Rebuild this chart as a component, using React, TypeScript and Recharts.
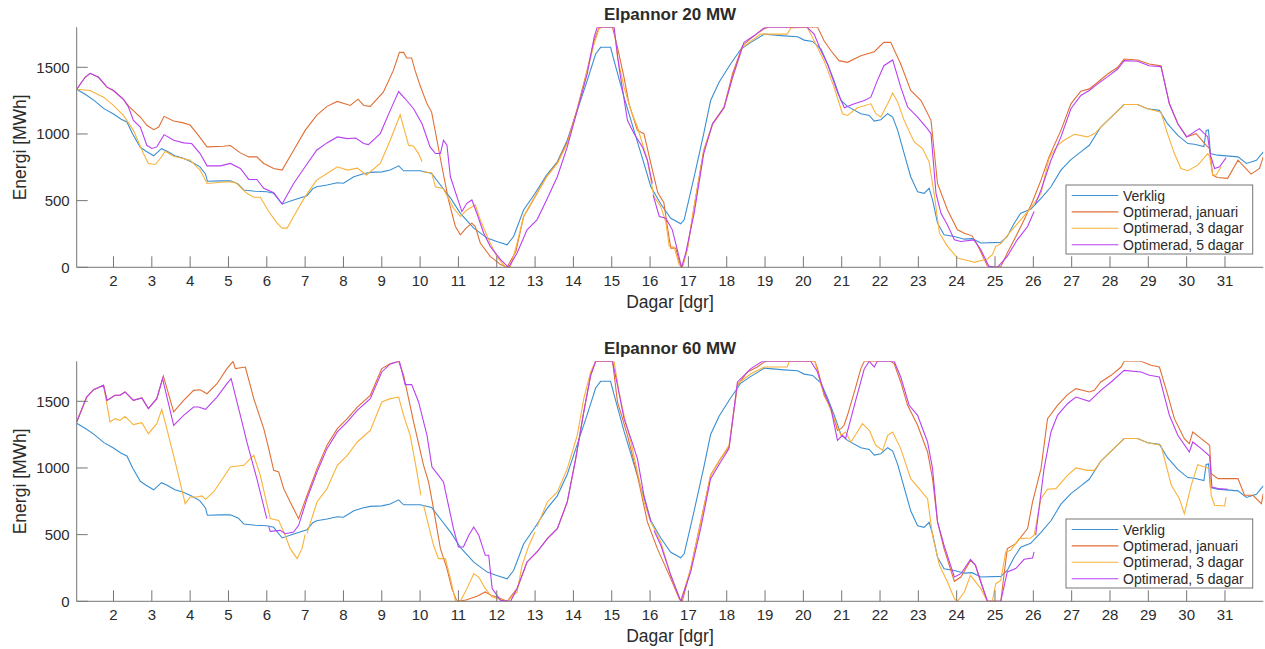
import React from 'react';
import { LineChart, Line, XAxis, YAxis } from 'recharts';

type Pt = [number, number | null];

// axes
const DAY_TICKS = [2, 3, 4, 5, 6, 7, 8, 9, 10, 11, 12, 13, 14, 15, 16, 17, 18, 19, 20, 21, 22, 23, 24, 25, 26, 27, 28, 29, 30, 31];
const ENERGY_TICKS = [0, 500, 1000, 1500];
const DAY_DOMAIN: [number, number] = [1.04, 32];
const ENERGY_DOMAIN: [number, number] = [0, 1800];

// measured energy, same in both panels
const VERKLIG: Pt[] = [
  [1.04, 1335], [1.3, 1290], [1.5, 1250], [1.75, 1190], [2.0, 1150], [2.2, 1110], [2.35, 1090], [2.5, 1000], [2.7, 900],
  [2.85, 870], [3.05, 836], [3.25, 890], [3.4, 870], [3.6, 836], [3.8, 820], [4.0, 796], [4.25, 755], [4.4, 700], [4.45, 645],
  [4.8, 648], [5.05, 649], [5.25, 625], [5.4, 580], [5.7, 570], [6.0, 567], [6.18, 555], [6.4, 475], [6.7, 505], [7.05, 537],
  [7.2, 590], [7.3, 604], [7.57, 617], [7.84, 634], [8.0, 630], [8.27, 679], [8.5, 700], [8.7, 712], [9.0, 716], [9.22, 729],
  [9.44, 761], [9.57, 724], [10.0, 724], [10.3, 704], [10.53, 617], [10.8, 517], [11.05, 405], [11.4, 294], [11.75, 219],
  [12.0, 194], [12.27, 169], [12.44, 231], [12.7, 430], [13.0, 555], [13.3, 691], [13.58, 791], [13.84, 953], [14.1, 1177],
  [14.36, 1400], [14.58, 1600], [14.71, 1650], [14.97, 1650], [15.06, 1550], [15.32, 1276], [15.58, 1027], [15.84, 779],
  [16.02, 604], [16.28, 475], [16.54, 368], [16.8, 326], [16.89, 356], [17.15, 679], [17.4, 1003], [17.58, 1251], [17.8, 1388],
  [18.1, 1525], [18.37, 1637], [18.63, 1687], [18.98, 1749], [19.5, 1736], [19.85, 1729], [20.02, 1704], [20.24, 1694],
  [20.46, 1637], [20.63, 1525], [20.8, 1400], [20.98, 1251], [21.15, 1207], [21.5, 1152], [21.72, 1139], [21.85, 1097],
  [22.02, 1107], [22.2, 1152], [22.33, 1127], [22.46, 1027], [22.63, 853], [22.8, 679], [22.98, 567], [23.15, 555],
  [23.28, 592], [23.37, 505], [23.5, 331], [23.67, 244], [23.94, 231], [24.2, 211], [24.4, 215], [24.63, 182], [25.15, 187],
  [25.32, 231], [25.5, 331], [25.67, 405], [25.93, 435], [26.2, 517], [26.46, 604], [26.72, 729], [26.98, 808], [27.24, 866],
  [27.46, 915], [27.76, 1052], [28.03, 1127], [28.37, 1221], [28.72, 1221], [28.98, 1189], [29.29, 1177], [29.5, 1077],
  [29.77, 990], [30.03, 928], [30.2, 923], [30.45, 905], [30.51, 1027], [30.57, 1030], [30.62, 853], [30.8, 841],
  [31.34, 828], [31.56, 779], [31.82, 803], [32.0, 866],
];

// 20 MW
const JANUARI_20: Pt[] = [
  [1.04, 1335], [1.26, 1425], [1.39, 1455], [1.61, 1425], [1.83, 1351], [2.0, 1326], [2.26, 1259], [2.4, 1207], [2.7, 1127],
  [2.87, 1065], [3.05, 1032], [3.18, 1052], [3.32, 1132], [3.57, 1097], [3.8, 1085], [4.0, 1067], [4.18, 1003], [4.44, 903],
  [4.87, 908], [5.05, 913], [5.31, 858], [5.53, 828], [5.74, 828], [5.92, 779], [6.18, 741], [6.4, 729], [6.7, 878],
  [7.0, 1027], [7.3, 1139], [7.57, 1207], [7.84, 1244], [8.18, 1214], [8.38, 1261], [8.53, 1214], [8.7, 1207], [9.04, 1313],
  [9.3, 1475], [9.46, 1612], [9.57, 1612], [9.65, 1570], [9.78, 1570], [9.87, 1475], [10.0, 1363], [10.18, 1226],
  [10.3, 1164], [10.44, 953], [10.57, 754], [10.74, 505], [10.92, 306], [11.05, 244], [11.2, 294], [11.35, 331],
  [11.44, 306], [11.57, 182], [11.83, 82], [12.1, 20], [12.27, 0], [12.5, 120], [12.7, 380], [13.0, 530], [13.3, 680],
  [13.58, 785], [13.84, 940], [14.1, 1190], [14.36, 1480], [14.54, 1700], [14.67, 1800], [15.02, 1800], [15.15, 1650],
  [15.32, 1425], [15.45, 1226], [15.67, 1027], [15.84, 1002], [16.02, 780], [16.2, 560], [16.36, 485], [16.45, 306],
  [16.54, 144], [16.67, 144], [16.8, 7], [16.84, 0], [16.97, 132], [17.15, 455], [17.4, 878], [17.63, 1077], [17.93, 1202],
  [18.15, 1450], [18.41, 1662], [18.71, 1736], [18.98, 1790], [19.1, 1800], [20.37, 1800], [20.54, 1699], [20.72, 1624],
  [20.93, 1550], [21.15, 1537], [21.5, 1587], [21.85, 1617], [22.1, 1687], [22.28, 1687], [22.54, 1525], [22.8, 1326],
  [23.07, 1251], [23.33, 1102], [23.5, 629], [23.76, 430], [24.02, 281], [24.2, 256], [24.4, 236], [24.54, 169], [24.8, 12],
  [24.97, 0], [25.15, 5], [25.32, 107], [25.5, 206], [25.76, 356], [25.98, 493], [26.2, 654], [26.41, 828], [26.72, 1027],
  [26.98, 1226], [27.24, 1321], [27.46, 1338], [27.68, 1388], [27.94, 1450], [28.2, 1500], [28.37, 1562], [28.72, 1555],
  [29.02, 1525], [29.33, 1512], [29.55, 1226], [29.77, 1077], [30.0, 978], [30.25, 1002], [30.51, 915], [30.6, 891],
  [30.68, 692], [30.8, 674], [31.07, 667], [31.34, 803], [31.68, 699], [31.9, 741], [32.0, 828],
];

const DAGAR3_20: Pt[] = [
  [1.04, 1335], [1.39, 1326], [1.74, 1276], [2.0, 1214], [2.26, 1139], [2.52, 1027], [2.78, 853], [2.91, 779], [3.09, 771],
  [3.22, 816], [3.35, 871], [3.57, 833], [4.0, 803], [4.26, 729], [4.44, 629], [4.96, 642], [5.18, 637], [5.48, 555],
  [5.66, 525], [5.83, 525], [6.05, 418], [6.27, 331], [6.4, 294], [6.53, 294], [6.7, 381], [7.0, 530], [7.3, 654],
  [7.57, 704], [7.84, 754], [8.1, 729], [8.36, 744], [8.6, 692], [8.96, 779], [9.22, 953], [9.48, 1144], [9.7, 915],
  [9.83, 908], [9.96, 853], [10.05, 791], [10.06, null], [10.07, 717], [10.3, 710], [10.4, 604], [10.6, 592], [10.74, 517],
  [10.87, 443], [11.05, 381], [11.22, 430], [11.44, 468], [11.57, 356], [11.79, 206], [12.0, 82], [12.23, 0], [12.36, 5],
  [12.53, 182], [12.7, 381], [12.97, 517], [13.3, 679], [13.58, 779], [13.84, 928], [14.1, 1177], [14.36, 1475],
  [14.54, 1674], [14.67, 1790], [14.75, 1800], [15.06, 1800], [15.15, 1575], [15.32, 1351], [15.5, 1177], [15.67, 1052],
  [15.93, 803], [16.1, 530], [16.28, 455], [16.41, 340], [16.5, 157], [16.63, 150], [16.76, 20], [16.84, 0], [16.97, 132],
  [17.15, 455], [17.4, 870], [17.63, 1070], [17.93, 1195], [18.15, 1420], [18.41, 1650], [18.89, 1749], [19.58, 1749],
  [19.67, 1795], [20.1, 1800], [20.28, 1699], [20.54, 1550], [20.8, 1351], [21.02, 1152], [21.15, 1139], [21.41, 1197],
  [21.76, 1226], [21.89, 1152], [22.02, 1127], [22.2, 1226], [22.33, 1308], [22.46, 1239], [22.63, 1102], [22.89, 940],
  [23.11, 891], [23.28, 791], [23.41, 555], [23.55, 256], [23.76, 157], [24.02, 70], [24.37, 45], [24.45, 37], [24.8, 62],
  [24.93, 95], [25.02, 157], [25.15, 177], [25.41, 269], [25.67, 356], [25.93, 443], [26.2, 555], [26.41, 816], [26.63, 915],
  [26.8, 953], [27.07, 998], [27.41, 978], [27.6, 1003], [27.76, 1052], [28.03, 1127], [28.37, 1221], [28.72, 1221],
  [28.98, 1189], [29.33, 1164], [29.5, 1003], [29.68, 853], [29.85, 741], [30.03, 724], [30.29, 766], [30.55, 853],
  [30.6, 830], [30.68, 692], [30.77, 692], [30.9, 754],
];

const DAGAR5_20: Pt[] = [
  [1.04, 1335], [1.26, 1425], [1.39, 1455], [1.61, 1425], [1.83, 1351], [2.0, 1326], [2.26, 1259], [2.39, 1202], [2.52, 1102],
  [2.7, 1052], [2.87, 915], [3.0, 891], [3.13, 903], [3.32, 995], [3.57, 953], [3.83, 933], [4.04, 928], [4.26, 853],
  [4.44, 761], [4.79, 761], [5.05, 779], [5.31, 741], [5.53, 659], [5.74, 659], [5.92, 592], [6.18, 560], [6.4, 475],
  [6.7, 629], [7.0, 754], [7.3, 878], [7.57, 933], [7.84, 978], [8.1, 965], [8.32, 970], [8.53, 928], [8.65, 920],
  [8.96, 1003], [9.22, 1177], [9.44, 1318], [9.61, 1264], [9.83, 1189], [10.05, 1077], [10.26, 903], [10.4, 853],
  [10.53, 853], [10.61, 953], [10.7, 915], [10.79, 679], [10.96, 530], [11.09, 418], [11.22, 480], [11.35, 505],
  [11.48, 405], [11.66, 256], [11.83, 157], [12.1, 57], [12.31, 0], [12.53, 107], [12.79, 281], [13.05, 356], [13.3, 505],
  [13.58, 679], [13.84, 903], [14.1, 1177], [14.36, 1450], [14.54, 1724], [14.62, 1800], [15.06, 1800], [15.19, 1500],
  [15.41, 1102], [15.58, 1003], [15.8, 903], [15.93, 803], [16.06, 629], [16.07, null], [16.08, 542], [16.24, 381],
  [16.41, 368], [16.58, 281], [16.71, 132], [16.82, 0], [16.93, 107], [17.15, 405], [17.4, 853], [17.63, 1077],
  [17.93, 1197], [18.15, 1425], [18.45, 1687], [18.71, 1736], [18.93, 1786], [19.0, 1800], [20.1, 1800], [20.28, 1749],
  [20.46, 1624], [20.63, 1525], [20.89, 1313], [21.07, 1197], [21.33, 1226], [21.59, 1251], [21.76, 1276], [21.93, 1400],
  [22.1, 1512], [22.33, 1555], [22.54, 1351], [22.72, 1202], [22.98, 1127], [23.2, 1052], [23.33, 1003], [23.46, 555],
  [23.59, 405], [23.76, 318], [23.94, 206], [24.11, 194], [24.45, 206], [24.63, 132], [24.84, 7], [25.06, 0], [25.32, 82],
  [25.58, 206], [25.85, 306], [26.02, 418], [26.03, null], [26.05, 470], [26.2, 580], [26.46, 803], [26.72, 978],
  [26.98, 1189], [27.24, 1289], [27.46, 1326], [27.68, 1376], [27.94, 1430], [28.2, 1487], [28.37, 1550], [28.72, 1545],
  [29.02, 1512], [29.33, 1505], [29.55, 1226], [29.77, 1077], [30.0, 978], [30.33, 1040], [30.55, 978], [30.62, 841],
  [30.73, 741], [30.86, 754], [31.03, 823],
];

// 60 MW
const JANUARI_60: Pt[] = [
  [1.04, 1345], [1.3, 1532], [1.48, 1587], [1.74, 1620], [1.83, 1507], [2.04, 1545], [2.17, 1545], [2.3, 1570], [2.52, 1507],
  [2.74, 1525], [2.91, 1445], [3.13, 1520], [3.3, 1690], [3.57, 1420], [3.83, 1507], [4.09, 1582], [4.26, 1587], [4.44, 1557],
  [4.7, 1632], [4.96, 1745], [5.12, 1800], [5.18, 1745], [5.44, 1757], [5.66, 1520], [5.92, 1295], [6.05, 1145], [6.18, 982],
  [6.31, 970], [6.44, 845], [6.61, 745], [6.83, 620], [7.05, 795], [7.31, 995], [7.57, 1170], [7.84, 1295], [8.1, 1370],
  [8.36, 1457], [8.7, 1545], [9.0, 1745], [9.22, 1782], [9.44, 1800], [9.57, 1695], [9.83, 1345], [10.09, 1020],
  [10.22, 895], [10.35, 695], [10.53, 395], [10.7, 245], [10.83, 95], [10.96, 0], [11.2, 10], [11.5, 40], [11.7, 70],
  [11.85, 45], [12.0, 32], [12.27, 0], [12.53, 95], [12.79, 295], [13.05, 370], [13.32, 470], [13.58, 545], [13.84, 745],
  [14.06, 1070], [14.27, 1420], [14.45, 1695], [14.58, 1800], [15.02, 1800], [15.15, 1495], [15.41, 1245], [15.67, 945],
  [15.93, 595], [16.19, 395], [16.54, 170], [16.76, 20], [16.84, 0], [17.06, 245], [17.32, 595], [17.58, 945], [17.84, 1070],
  [18.06, 1157], [18.28, 1620], [18.54, 1720], [18.8, 1757], [18.98, 1795], [19.05, 1800], [20.3, 1800], [20.37, 1745],
  [20.54, 1545], [20.72, 1445], [20.89, 1282], [20.98, 1295], [21.06, 1320], [21.15, 1395], [21.33, 1570], [21.5, 1745],
  [21.59, 1800], [22.28, 1800], [22.37, 1782], [22.54, 1645], [22.72, 1470], [22.98, 1320], [23.24, 1120], [23.37, 920],
  [23.5, 595], [23.67, 395], [23.94, 150], [24.11, 182], [24.36, 307], [24.49, 270], [24.63, 145], [24.8, 0], [25.15, 0],
  [25.32, 395], [25.54, 432], [25.85, 545], [25.98, 745], [26.2, 995], [26.37, 1370], [26.63, 1470], [26.89, 1550],
  [27.11, 1595], [27.46, 1570], [27.59, 1582], [27.76, 1645], [28.03, 1695], [28.29, 1757], [28.37, 1800], [28.81, 1800],
  [29.07, 1770], [29.29, 1757], [29.51, 1545], [29.68, 1370], [29.94, 1220], [30.07, 1182], [30.16, 1270], [30.38, 1220],
  [30.6, 1170], [30.64, 957], [30.82, 920], [31.34, 920], [31.51, 795], [31.73, 795], [31.95, 732], [32.0, 807],
];

const DAGAR3_60: Pt[] = [
  [1.04, 1345], [1.3, 1532], [1.48, 1587], [1.74, 1620], [1.91, 1345], [2.04, 1370], [2.17, 1357], [2.3, 1387], [2.52, 1325],
  [2.74, 1340], [2.91, 1257], [3.13, 1332], [3.26, 1440], [3.39, 1295], [3.61, 1045], [3.87, 732], [4.0, 782], [4.18, 782],
  [4.31, 790], [4.4, 765], [4.61, 820], [4.79, 895], [5.05, 1007], [5.4, 1020], [5.66, 1095], [5.83, 945], [6.09, 620],
  [6.31, 607], [6.48, 495], [6.61, 395], [6.79, 320], [6.92, 395], [7.0, 500], [7.01, null], [7.05, 510], [7.31, 745],
  [7.57, 845], [7.84, 1020], [8.1, 1095], [8.36, 1195], [8.7, 1282], [9.0, 1495], [9.22, 1520], [9.44, 1532], [9.57, 1395],
  [9.74, 1245], [9.87, 1045], [10.02, 795], [10.03, null], [10.09, 720], [10.22, 570], [10.35, 420], [10.48, 320],
  [10.66, 320], [10.79, 170], [10.92, 7], [11.05, 0], [11.22, 95], [11.4, 207], [11.53, 182], [11.7, 95], [11.88, 32],
  [12.27, 0], [12.53, 70], [12.66, 270], [12.84, 420], [13.0, 520], [13.01, null], [13.05, 560], [13.32, 745], [13.58, 820],
  [13.84, 995], [14.1, 1245], [14.27, 1520], [14.45, 1720], [14.58, 1800], [15.06, 1800], [15.19, 1570], [15.32, 1395],
  [15.5, 1195], [15.67, 970], [15.84, 745], [16.02, 595], [16.28, 445], [16.54, 195], [16.8, 0], [17.06, 245], [17.32, 587],
  [17.58, 945], [17.84, 1070], [18.06, 1170], [18.28, 1632], [18.63, 1707], [18.98, 1757], [19.58, 1757], [19.63, 1800],
  [20.3, 1800], [20.46, 1620], [20.8, 1370], [20.98, 1245], [21.1, 1270], [21.24, 1195], [21.41, 1270], [21.54, 1332],
  [21.72, 1282], [21.89, 1170], [22.07, 1132], [22.2, 1245], [22.33, 1270], [22.54, 1145], [22.8, 920], [23.02, 845],
  [23.24, 770], [23.37, 495], [23.55, 270], [23.76, 145], [23.94, 20], [24.02, 0], [24.2, 70], [24.36, 195], [24.63, 95],
  [24.8, 0], [24.93, 0], [25.02, 132], [25.15, 157], [25.28, 370], [25.41, 382], [25.63, 470], [25.93, 475], [26.02, 495],
  [26.2, 770], [26.37, 840], [26.59, 845], [26.89, 945], [27.11, 1000], [27.41, 982], [27.59, 982], [27.76, 1050],
  [28.03, 1127], [28.37, 1221], [28.72, 1221], [28.98, 1189], [29.33, 1170], [29.6, 870], [29.81, 770], [29.94, 657],
  [30.12, 870], [30.29, 1025], [30.47, 1007], [30.6, 995], [30.64, 795], [30.73, 720], [30.99, 715], [31.03, 782],
];

const DAGAR5_60: Pt[] = [
  [1.04, 1345], [1.3, 1532], [1.48, 1587], [1.74, 1620], [1.83, 1507], [2.04, 1545], [2.17, 1545], [2.3, 1570], [2.52, 1507],
  [2.74, 1525], [2.91, 1445], [3.13, 1520], [3.28, 1670], [3.57, 1320], [3.83, 1395], [4.09, 1457], [4.22, 1457], [4.4, 1440],
  [4.7, 1532], [4.96, 1632], [5.07, 1670], [5.31, 1395], [5.48, 1195], [5.74, 920], [6.0, 620], [6.01, null], [6.05, 560],
  [6.09, 525], [6.35, 532], [6.48, 507], [6.7, 520], [6.83, 570], [7.05, 770], [7.31, 970], [7.57, 1145], [7.84, 1270],
  [8.1, 1345], [8.36, 1432], [8.7, 1520], [9.0, 1720], [9.22, 1780], [9.46, 1800], [9.61, 1625], [9.78, 1625], [9.96, 1495],
  [10.18, 1245], [10.31, 1007], [10.48, 945], [10.61, 895], [10.74, 720], [10.87, 545], [11.0, 407], [11.13, 407],
  [11.27, 495], [11.4, 557], [11.53, 495], [11.7, 345], [11.79, 345], [11.88, 95], [12.1, 7], [12.36, 0], [12.53, 95],
  [12.79, 295], [13.05, 370], [13.32, 470], [13.58, 545], [13.84, 745], [14.06, 1070], [14.27, 1420], [14.45, 1695],
  [14.58, 1800], [15.02, 1800], [15.15, 1620], [15.32, 1370], [15.5, 1220], [15.67, 1070], [15.84, 795], [16.02, 595],
  [16.03, null], [16.1, 532], [16.28, 420], [16.54, 195], [16.8, 0], [17.06, 220], [17.32, 545], [17.58, 920], [17.84, 1045],
  [18.06, 1145], [18.28, 1645], [18.63, 1745], [18.93, 1800], [20.19, 1800], [20.37, 1720], [20.54, 1570], [20.72, 1445],
  [20.89, 1207], [21.02, 1245], [21.1, 1220], [21.33, 1470], [21.59, 1745], [21.72, 1800], [21.85, 1757], [21.93, 1800],
  [22.37, 1800], [22.54, 1682], [22.76, 1470], [22.98, 1395], [23.24, 1195], [23.37, 995], [23.5, 595], [23.67, 420],
  [23.94, 182], [24.11, 207], [24.36, 315], [24.49, 270], [24.63, 145], [24.8, 0], [25.15, 0], [25.32, 220], [25.54, 245],
  [25.76, 315], [25.98, 325], [26.02, 370], [26.03, null], [26.06, 495], [26.28, 995], [26.46, 1270], [26.63, 1395],
  [26.89, 1482], [27.11, 1532], [27.46, 1500], [27.76, 1582], [28.03, 1645], [28.37, 1732], [28.81, 1720], [29.03, 1695],
  [29.29, 1682], [29.55, 1395], [29.77, 1245], [30.07, 1120], [30.16, 1195], [30.38, 1145], [30.6, 1090], [30.66, 857],
  [30.82, 845], [31.08, 840],
];

const SERIES_NAMES = ['Verklig', 'Optimerad, januari', 'Optimerad, 3 dagar', 'Optimerad, 5 dagar'];
const SERIES_COLORS = ['#3a8fd2', '#e06f35', '#f9b23a', '#b940f2'];

const FONT = '"Liberation Sans", Arial, Helvetica, sans-serif';
const AXIS_COLOR = '#767676';
const TEXT_COLOR = '#2b2b2b';

const W = 1265;
const H = 334;
const PLOT_LEFT = 76.7;
const PLOT_TOP = 27.3;
const PLOT_H = 240;
const PLOT_RIGHT = 1263.3;
const TICK_LEN = 11;

const toRows = (pts: Pt[]) => pts.map(([d, v]) => ({ d, v }));
const blank = () => '';

function Panel({ title, series, top }: { title: string; series: Pt[][]; top: number }) {
  const tickStyle = { fontSize: 15, fontFamily: FONT, fill: TEXT_COLOR };
  const cx = (PLOT_LEFT + PLOT_RIGHT) / 2;
  const cy = PLOT_TOP + PLOT_H / 2;
  const lx = 1066;
  const ly = 185;
  return (
    <div style={{ position: 'absolute', left: 0, top, width: W, height: H }}>
      <LineChart
        width={W}
        height={H}
        margin={{ top: PLOT_TOP, right: W - PLOT_RIGHT, bottom: 0, left: 0 }}
      >
        <XAxis
          xAxisId="b"
          dataKey="d"
          type="number"
          domain={DAY_DOMAIN}
          ticks={DAY_TICKS}
          allowDataOverflow
          height={H - PLOT_TOP - PLOT_H}
          stroke={AXIS_COLOR}
          tickSize={-TICK_LEN}
          tickMargin={TICK_LEN + 8}
          tick={tickStyle}
          interval={0}
        />
        <XAxis
          xAxisId="t"
          orientation="top"
          dataKey="d"
          type="number"
          domain={DAY_DOMAIN}
          ticks={DAY_TICKS}
          allowDataOverflow
          height={0}
          stroke={AXIS_COLOR}
          tickSize={-TICK_LEN}
          tickFormatter={blank}
          interval={0}
        />
        <YAxis
          yAxisId="l"
          type="number"
          domain={ENERGY_DOMAIN}
          ticks={ENERGY_TICKS}
          allowDataOverflow
          width={PLOT_LEFT}
          stroke={AXIS_COLOR}
          tickSize={-TICK_LEN}
          tickMargin={TICK_LEN + 7}
          tick={tickStyle}
          interval={0}
        />
        <YAxis
          yAxisId="r"
          orientation="right"
          type="number"
          domain={ENERGY_DOMAIN}
          ticks={ENERGY_TICKS}
          allowDataOverflow
          width={0}
          stroke={AXIS_COLOR}
          tickSize={-TICK_LEN}
          tickFormatter={blank}
          interval={0}
        />
        {series.map((pts, i) => (
          <Line
            key={SERIES_NAMES[i]}
            xAxisId="b"
            yAxisId="l"
            data={toRows(pts)}
            dataKey="v"
            name={SERIES_NAMES[i]}
            type="linear"
            stroke={SERIES_COLORS[i]}
            strokeWidth={1.1}
            dot={false}
            activeDot={false}
            isAnimationActive={false}
          />
        ))}
      </LineChart>
      <svg
        width={W}
        height={H}
        style={{ position: 'absolute', left: 0, top: 0, pointerEvents: 'none', fontFamily: FONT }}
      >
        <text x={cx} y={20} textAnchor="middle" fontSize={17} fontWeight="bold" fill={TEXT_COLOR}>
          {title}
        </text>
        <text x={cx} y={308} textAnchor="middle" fontSize={17.5} fill={TEXT_COLOR}>
          Dagar [dgr]
        </text>
        <text
          transform={`translate(26, ${cy}) rotate(-90)`}
          textAnchor="middle"
          fontSize={17.5}
          fill={TEXT_COLOR}
        >
          Energi [MWh]
        </text>
        {/* legend box */}
        <rect x={lx} y={ly} width={186.7} height={69} fill="#ffffff" stroke={AXIS_COLOR} strokeWidth={1} />
        {SERIES_NAMES.map((name, i) => {
          const ry = ly + 10.5 + i * 16.4;
          return (
            <g key={name}>
              <line x1={lx + 5.7} x2={lx + 52.3} y1={ry} y2={ry} stroke={SERIES_COLORS[i]} strokeWidth={1.1} />
              <text x={lx + 57} y={ry} dominantBaseline="central" fontSize={14} fill={TEXT_COLOR}>
                {name}
              </text>
            </g>
          );
        })}
      </svg>
    </div>
  );
}

export default function App() {
  return (
    <div style={{ position: 'absolute', left: 0, top: 0, width: W, height: 649, background: '#ffffff', overflow: 'hidden' }}>
      <Panel title="Elpannor 20 MW" top={0} series={[VERKLIG, JANUARI_20, DAGAR3_20, DAGAR5_20]} />
      <Panel title="Elpannor 60 MW" top={334} series={[VERKLIG, JANUARI_60, DAGAR3_60, DAGAR5_60]} />
    </div>
  );
}
